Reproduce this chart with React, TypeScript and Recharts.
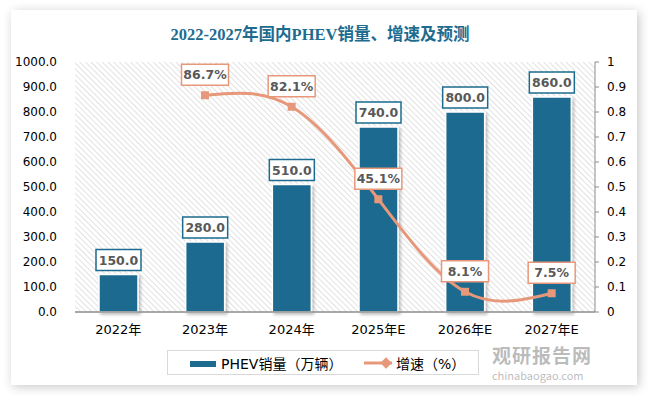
import React from "react";
import { ComposedChart, Bar, Line, XAxis, YAxis, CartesianGrid, LabelList } from "recharts";

const years = ["2022年", "2023年", "2024年", "2025年E", "2026年E", "2027年E"];
const sales = [150, 280, 510, 740, 800, 860];
const growth = [null, 0.867, 0.821, 0.451, 0.081, 0.075];
const leftTicks = [0, 100, 200, 300, 400, 500, 600, 700, 800, 900, 1000];
const rightTicks = [0, 0.1, 0.2, 0.3, 0.4, 0.5, 0.6, 0.7, 0.8, 0.9, 1];

const data = years.map((year, i) => ({ year, sales: sales[i], growth: growth[i] }));

const BLUE = "#1d6b8f";
const ORANGE = "#e8987a";
const TICK_FONT = "'DejaVu Sans', 'Noto Sans CJK SC', sans-serif";

const BoxLabel = (props: any) => {
  const { x, y, width, value, color, fmt, gap, boxW } = props;
  if (value == null) return null;
  const cx = width != null ? x + width / 2 : x;
  const cy = y - gap;
  return (
    <g>
      <rect x={cx - boxW / 2} y={cy - 10} width={boxW} height={21} fill="#fff" stroke={color} strokeWidth={1.5} />
      <text x={cx} y={cy + 5} textAnchor="middle" fontSize={12.5} fontWeight="bold" fill="#595959" fontFamily={TICK_FONT}>
        {fmt(value)}
      </text>
    </g>
  );
};

const Square = (props: any) => {
  const { cx, cy, payload } = props;
  if (payload.growth == null || cx == null) return null;
  return <rect x={cx - 4} y={cy - 4} width={8} height={8} fill={ORANGE} />;
};

export default function App() {
  return (
    <div style={{ position: "absolute", left: 0, top: 0, width: 648, height: 395, background: "#fff" }}>
      <svg width={0} height={0} style={{ position: "absolute" }}>
        <defs>
          <pattern id="hatch" width={4} height={4} patternUnits="userSpaceOnUse" patternTransform="rotate(-45)">
            <rect width={4} height={4} fill="#fff" />
            <line x1={0} y1={0} x2={0} y2={4} stroke="#d6d6d6" strokeWidth={1.4} />
          </pattern>
          <filter id="barShadow" x="-20%" y="-20%" width="150%" height="150%">
            <feDropShadow dx={2} dy={2} stdDeviation={1.5} floodColor="#000" floodOpacity={0.25} />
          </filter>
        </defs>
      </svg>
      <div
        style={{
          position: "absolute",
          left: 11,
          top: 10,
          width: 626,
          height: 375,
          background: "#fff",
          boxShadow: "2px 2px 10px rgba(0,0,0,0.22)",
        }}
      />
      <div
        style={{
          position: "absolute",
          left: 0,
          top: 21,
          width: 640,
          textAlign: "center",
          color: BLUE,
          fontSize: 16.5,
          fontWeight: "bold",
          fontFamily: "'Liberation Serif', 'Noto Sans CJK SC', serif",
        }}
      >
        2022-2027年国内PHEV销量、增速及预测
      </div>
      <div
        style={{
          position: "absolute",
          left: 492,
          top: 345,
          color: "rgba(120,120,120,0.5)",
          fontFamily: "'Noto Sans CJK SC', sans-serif",
          lineHeight: 1,
        }}
      >
        <div style={{ fontSize: 19, fontWeight: "bold", letterSpacing: 1, lineHeight: "19px" }}>观研报告网</div>
        <div style={{ fontSize: 11, marginTop: 6, lineHeight: "11px" }}>chinabaogao.com</div>
      </div>
      <div style={{ position: "absolute", left: 0, top: 0 }}>
        <ComposedChart width={648} height={395} data={data} margin={{ top: 62, right: 13, bottom: 53, left: 15 }}>
          <CartesianGrid horizontal={false} vertical={false} fill="url(#hatch)" />
          <XAxis
            dataKey="year"
            tickLine={false}
            axisLine={{ stroke: "#8c8c8c", strokeWidth: 1.5 }}
            tick={{ fill: "#000", fontSize: 13, fontFamily: TICK_FONT }}
            tickMargin={7}
            height={30}
            interval={0}
          />
          <YAxis
            yAxisId="left"
            domain={[0, 1000]}
            ticks={leftTicks}
            axisLine={false}
            tickLine={false}
            tickMargin={12}
            width={60}
            tick={{ fill: "#000", fontSize: 12, fontFamily: TICK_FONT }}
            tickFormatter={(v: number) => v.toFixed(1)}
          />
          <YAxis
            yAxisId="right"
            orientation="right"
            domain={[0, 1]}
            ticks={rightTicks}
            axisLine={{ stroke: "#8c8c8c" }}
            tickLine={{ stroke: "#8c8c8c" }}
            tickSize={4}
            tickMargin={8}
            width={40}
            tick={{ fill: "#000", fontSize: 12, fontFamily: TICK_FONT, textAnchor: "start" }}
            tickFormatter={(v: number) => String(+v.toFixed(1))}
          />
          <Bar
            yAxisId="left"
            dataKey="sales"
            fill={BLUE}
            stroke="#fff"
            strokeWidth={1.5}
            barSize={39}
            filter="url(#barShadow)"
            isAnimationActive={false}
          >
            <LabelList
              dataKey="sales"
              content={(p: any) => (
                <BoxLabel {...p} color={BLUE} gap={15} boxW={45} fmt={(v: number) => v.toFixed(1)} />
              )}
            />
          </Bar>
          <Line
            yAxisId="right"
            dataKey="growth"
            type="natural"
            stroke={ORANGE}
            strokeWidth={3}
            dot={<Square />}
            activeDot={false}
            isAnimationActive={false}
          >
            <LabelList
              dataKey="growth"
              content={(p: any) => (
                <BoxLabel {...p} color={ORANGE} gap={21} boxW={47} fmt={(v: number) => (v * 100).toFixed(1) + "%"} />
              )}
            />
          </Line>
        </ComposedChart>
      </div>
      <div
        style={{
          position: "absolute",
          left: 167,
          top: 350,
          width: 312,
          height: 25,
          border: "1px solid #d9d9d9",
          boxSizing: "border-box",
          fontSize: 14,
          fontFamily: TICK_FONT,
          color: "#000",
          background: "#fff",
        }}
      >
        <div style={{ position: "absolute", left: 22, top: 10, width: 26, height: 6, background: BLUE }} />
        <div style={{ position: "absolute", left: 53, top: 2, whiteSpace: "nowrap" }}>PHEV销量（万辆）</div>
        <svg style={{ position: "absolute", left: 194, top: 5 }} width={34} height={14}>
          <line x1={2} y1={7} x2={30} y2={7} stroke={ORANGE} strokeWidth={3} />
          <rect x={20} y={3} width={8} height={8} fill={ORANGE} transform="rotate(45 24 7)" />
        </svg>
        <div style={{ position: "absolute", left: 228, top: 2, whiteSpace: "nowrap" }}>增速（%）</div>
      </div>
    </div>
  );
}
